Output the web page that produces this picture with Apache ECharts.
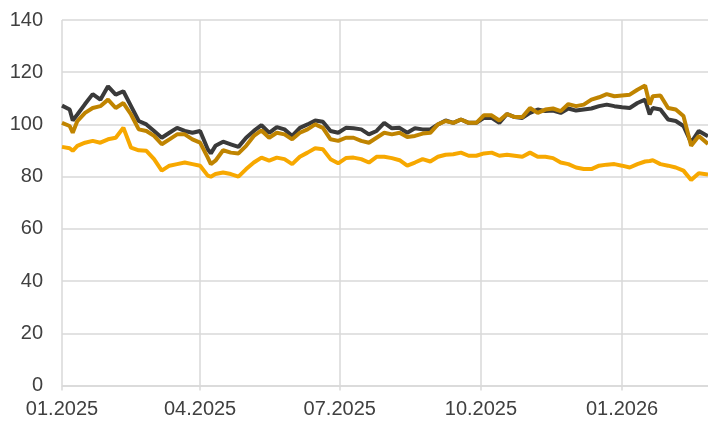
<!DOCTYPE html>
<html>
<head>
<meta charset="utf-8">
<script src="https://cdn.jsdelivr.net/npm/echarts@6/dist/echarts.min.js"></script>
<style>
html,body{margin:0;padding:0;background:#fff;}
#chart{width:708px;height:424px;}
</style>
</head>
<body>
<div id="chart"></div>
<script>
// Observation dates
var dates = [
'2025-01-01','2025-01-06','2025-01-08','2025-01-11','2025-01-16','2025-01-21','2025-01-26','2025-01-31',
'2025-02-05','2025-02-10','2025-02-15','2025-02-20','2025-02-25','2025-03-02','2025-03-07','2025-03-12',
'2025-03-17','2025-03-22','2025-03-27','2025-04-01','2025-04-06','2025-04-08','2025-04-11','2025-04-16',
'2025-04-21','2025-04-26','2025-05-01','2025-05-06','2025-05-11','2025-05-16','2025-05-21','2025-05-26',
'2025-05-31','2025-06-05','2025-06-10','2025-06-15','2025-06-20','2025-06-25','2025-06-30','2025-07-05',
'2025-07-10','2025-07-15','2025-07-20','2025-07-25','2025-07-30','2025-08-04','2025-08-09','2025-08-14',
'2025-08-19','2025-08-24','2025-08-29','2025-09-03','2025-09-08','2025-09-13','2025-09-18','2025-09-23',
'2025-09-28','2025-10-03','2025-10-08','2025-10-13','2025-10-18','2025-10-23','2025-10-28','2025-11-02',
'2025-11-07','2025-11-12','2025-11-17','2025-11-22','2025-11-27','2025-12-02','2025-12-07','2025-12-12',
'2025-12-17','2025-12-22','2025-12-27','2026-01-01','2026-01-06','2026-01-11','2026-01-16','2026-01-19',
'2026-01-21','2026-01-26','2026-01-31','2026-02-05','2026-02-10','2026-02-15','2026-02-20','2026-02-26'
];

// Dark grey series
var seriesDark = [
107.2,105.7,101.5,103.8,107.8,111.6,109.5,114.6,
111.4,112.7,107.0,101.3,100.0,97.5,94.9,96.8,
98.7,97.5,96.8,97.5,90.5,88.9,91.8,93.4,
92.4,91.4,94.9,97.5,99.7,96.8,99.0,98.1,
95.6,98.7,100.0,101.5,101.0,97.5,96.8,98.7,
98.5,98.1,96.2,97.5,100.6,98.5,98.7,96.8,
98.5,98.1,98.1,100.0,101.5,100.6,101.9,100.6,
100.6,102.5,102.5,100.6,104.0,102.8,102.5,104.4,
105.7,105.1,105.3,104.4,106.1,105.3,105.7,106.1,
107.0,107.6,107.0,106.6,106.3,108.2,109.5,103.8,
106.3,105.7,101.9,101.3,99.4,93.0,97.5,95.5
];

// Gold series
var seriesGold = [
100.6,99.4,96.8,101.3,104.4,106.3,107.0,109.5,
106.3,108.2,103.8,98.1,97.5,95.6,92.4,94.3,
96.2,96.2,94.3,93.0,87.3,84.8,86.1,90.1,
89.2,88.9,91.8,95.6,97.7,94.9,96.8,96.2,
94.3,96.8,98.1,100.0,98.7,94.3,93.7,94.9,
94.9,93.7,93.0,94.9,96.8,96.2,96.8,95.2,
95.6,96.5,96.8,100.0,101.3,100.6,101.9,100.6,
100.6,103.5,103.5,101.5,104.0,102.8,102.8,106.3,
104.4,105.7,106.1,105.1,107.8,107.0,107.6,109.5,
110.4,111.6,110.8,111.1,111.4,113.3,114.9,107.6,
110.8,111.1,106.3,105.7,103.2,91.8,95.6,92.5
];

// Orange series
var seriesOrange = [
91.4,90.9,89.9,91.8,93.0,93.7,93.0,94.3,
94.9,98.7,91.1,90.1,89.9,86.7,82.3,84.2,
84.8,85.4,84.8,84.2,80.4,80.0,81.0,81.6,
81.0,80.0,82.9,85.4,87.3,86.1,87.3,86.7,
84.8,87.6,89.2,90.9,90.5,86.7,85.1,87.1,
87.3,86.7,85.4,87.6,87.6,87.1,86.3,84.2,
85.4,86.7,85.8,87.6,88.4,88.6,89.2,88.0,
88.0,88.9,89.2,88.0,88.4,88.0,87.6,89.2,
87.6,87.6,87.1,85.4,84.8,83.5,82.9,82.9,
84.2,84.6,84.8,84.2,83.5,84.8,85.8,86.0,
86.3,84.8,84.2,83.5,82.3,78.7,81.3,80.8
];

// Axis
var axisStart = '2025-01-01';
var axisEnd = '2026-02-26';
var tickDates = ['2025-01-01','2025-04-01','2025-07-01','2025-10-01','2026-01-01'];
var tickLabels = ['01.2025','04.2025','07.2025','10.2025','01.2026'];
var yTicks = [0,20,40,60,80,100,120,140];

// build full daily category list for the axis
function buildDays(a, b) {
  var out = [];
  var t = Date.parse(a + 'T00:00:00Z'), e = Date.parse(b + 'T00:00:00Z');
  for (; t <= e; t += 86400000) out.push(new Date(t).toISOString().slice(0, 10));
  return out;
}
var days = buildDays(axisStart, axisEnd);
function isTick(idx, val) { return tickDates.indexOf(val) >= 0; }
function pairs(vals) { return dates.map(function (d, i) { return [d, vals[i]]; }); }

var font = "'Liberation Sans', Arial, sans-serif";
var chart = echarts.init(document.getElementById('chart'));
chart.setOption({
  animation: false,
  backgroundColor: '#fff',
  grid: { left: 62, right: 0, top: 20, bottom: 38.5, containLabel: false },
  xAxis: {
    type: 'category',
    data: days,
    boundaryGap: false,
    axisLine: { show: true, lineStyle: { color: '#d9d9d9', width: 1.5 } },
    axisTick: { show: true, interval: isTick, length: 5, lineStyle: { color: '#d9d9d9', width: 1.5 } },
    splitLine: { show: true, interval: isTick, lineStyle: { color: '#d9d9d9', width: 1.5 } },
    axisLabel: {
      interval: isTick,
      margin: 14,
      color: '#404040',
      fontSize: 20,
      fontFamily: font,
      formatter: function (v) { var i = tickDates.indexOf(v); return i >= 0 ? tickLabels[i] : ''; }
    }
  },
  yAxis: {
    type: 'value',
    min: yTicks[0],
    max: yTicks[yTicks.length - 1],
    interval: 20,
    axisLine: { show: false },
    axisTick: { show: false },
    splitLine: { show: true, lineStyle: { color: '#d9d9d9', width: 1.5 } },
    axisLabel: { margin: 19, color: '#404040', fontSize: 20, fontFamily: font }
  },
  series: [
    { type: 'line', data: pairs(seriesDark), showSymbol: false, lineStyle: { color: '#3a3a3a', width: 4 }, itemStyle: { color: '#3a3a3a' } },
    { type: 'line', data: pairs(seriesGold), showSymbol: false, lineStyle: { color: '#c08400', width: 4 }, itemStyle: { color: '#c08400' } },
    { type: 'line', data: pairs(seriesOrange), showSymbol: false, lineStyle: { color: '#f7a800', width: 4 }, itemStyle: { color: '#f7a800' } }
  ]
});
</script>
</body>
</html>
